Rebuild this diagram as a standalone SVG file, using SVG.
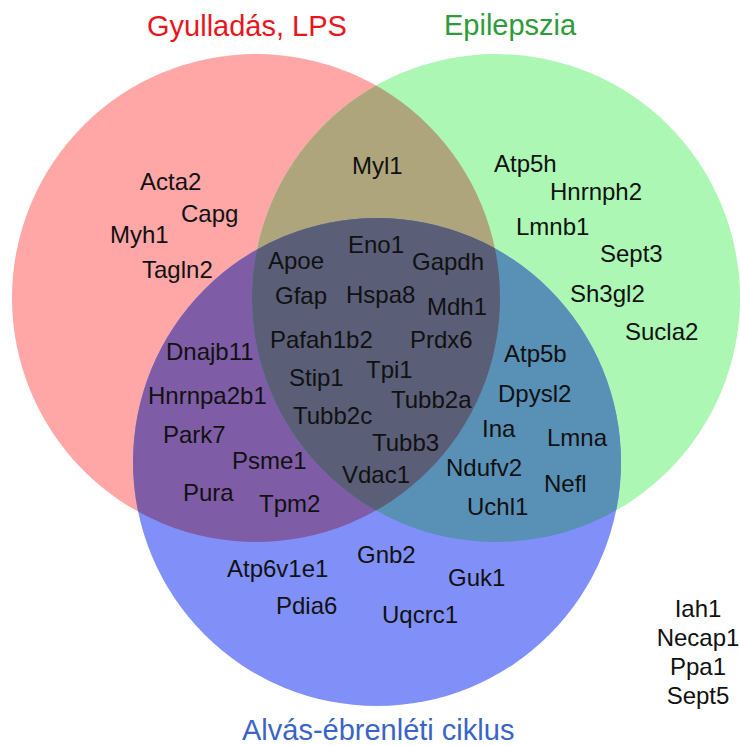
<svg xmlns="http://www.w3.org/2000/svg" width="740" height="746" viewBox="0 0 740 746">
  <style>
    text { font-family: "Liberation Sans", Arial, sans-serif; }
    .gene { font-size: 24px; fill: #111; }
    .title { font-size: 29px; }
  </style>
  <defs>
    <clipPath id="clipRed"><circle cx="256" cy="298" r="244"/></clipPath>
    <clipPath id="clipGreen"><circle cx="496" cy="298" r="244"/></clipPath>
    <clipPath id="clipBlue"><circle cx="377" cy="462" r="244"/></clipPath>
  </defs>
  <rect width="740" height="746" fill="#fff"/>

  <!-- base sets -->
  <g id="set-lps"><circle cx="256" cy="298" r="244" fill="#FFA6A6"/></g>
  <g id="set-epilepsy"><circle cx="496" cy="298" r="244" fill="#ABF7B3"/></g>
  <g id="set-sleep"><circle cx="377" cy="462" r="244" fill="#8090F8"/></g>

  <!-- pairwise and triple overlaps -->
  <g id="overlap-lps-epilepsy"><circle cx="496" cy="298" r="244" fill="#AFA57C" clip-path="url(#clipRed)"/></g>
  <g id="overlap-lps-sleep"><circle cx="377" cy="462" r="244" fill="#7E5DA6" clip-path="url(#clipRed)"/></g>
  <g id="overlap-epilepsy-sleep"><circle cx="377" cy="462" r="244" fill="#5990B6" clip-path="url(#clipGreen)"/></g>
  <g id="overlap-all" clip-path="url(#clipRed)"><circle cx="377" cy="462" r="244" fill="#5A5E77" clip-path="url(#clipGreen)"/></g>

  <!-- set titles -->
  <g id="titles">
    <text class="title" x="147" y="36" fill="#E8151C">Gyulladás, LPS</text>
    <text class="title" x="444" y="35" fill="#2E9B3A">Epilepszia</text>
    <text class="title" x="242" y="740" fill="#3A64C6">Alvás-ébrenléti ciklus</text>
  </g>

  <!-- gene labels -->
  <g id="genes" class="gene">
    <!-- LPS only -->
    <text x="140" y="190">Acta2</text>
    <text x="181" y="222">Capg</text>
    <text x="110" y="243">Myh1</text>
    <text x="142" y="278">Tagln2</text>
    <!-- LPS + epilepsy -->
    <text x="352" y="174">Myl1</text>
    <!-- epilepsy only -->
    <text x="494" y="172">Atp5h</text>
    <text x="550" y="200">Hnrnph2</text>
    <text x="516" y="235">Lmnb1</text>
    <text x="600" y="262">Sept3</text>
    <text x="570" y="302">Sh3gl2</text>
    <text x="625" y="340">Sucla2</text>
    <!-- all three -->
    <text x="348" y="253">Eno1</text>
    <text x="268" y="269">Apoe</text>
    <text x="412" y="270">Gapdh</text>
    <text x="275" y="304">Gfap</text>
    <text x="346" y="303">Hspa8</text>
    <text x="427" y="315">Mdh1</text>
    <text x="270" y="348">Pafah1b2</text>
    <text x="410" y="348">Prdx6</text>
    <text x="366" y="378">Tpi1</text>
    <text x="289" y="386">Stip1</text>
    <text x="391" y="408">Tubb2a</text>
    <text x="293" y="424">Tubb2c</text>
    <text x="372" y="451">Tubb3</text>
    <text x="342" y="483">Vdac1</text>
    <!-- LPS + sleep -->
    <text x="166" y="360">Dnajb11</text>
    <text x="148" y="404">Hnrnpa2b1</text>
    <text x="163" y="443">Park7</text>
    <text x="232" y="469">Psme1</text>
    <text x="183" y="501">Pura</text>
    <text x="259" y="512">Tpm2</text>
    <!-- epilepsy + sleep -->
    <text x="504" y="362">Atp5b</text>
    <text x="498" y="402">Dpysl2</text>
    <text x="482" y="437">Ina</text>
    <text x="547" y="446">Lmna</text>
    <text x="446" y="476">Ndufv2</text>
    <text x="544" y="492">Nefl</text>
    <text x="467" y="515">Uchl1</text>
    <!-- sleep only -->
    <text x="357" y="563">Gnb2</text>
    <text x="227" y="577">Atp6v1e1</text>
    <text x="448" y="586">Guk1</text>
    <text x="276" y="614">Pdia6</text>
    <text x="382" y="623">Uqcrc1</text>
    <!-- none of the sets -->
    <g text-anchor="middle">
      <text x="698" y="617">Iah1</text>
      <text x="698" y="646">Necap1</text>
      <text x="698" y="675">Ppa1</text>
      <text x="698" y="704">Sept5</text>
    </g>
  </g>
</svg>
